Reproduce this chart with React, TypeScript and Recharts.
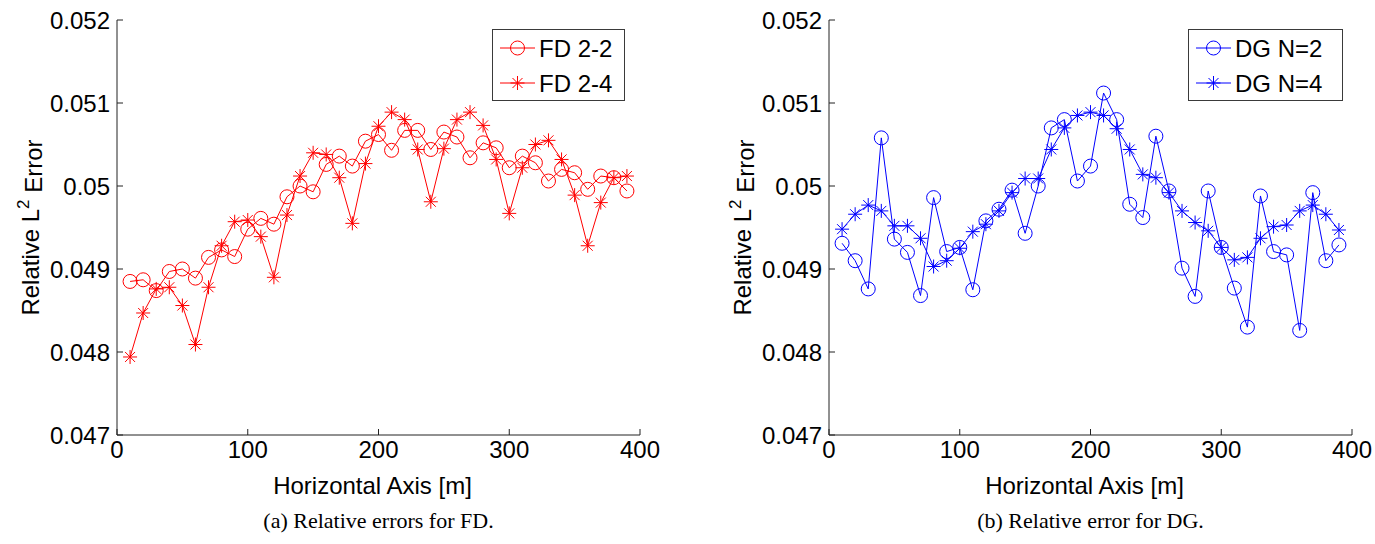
import React from 'react';
import { LineChart, Line, XAxis, YAxis, Legend, Label } from 'recharts';

const xValues = [10, 20, 30, 40, 50, 60, 70, 80, 90, 100, 110, 120, 130, 140, 150, 160, 170, 180, 190, 200,
  210, 220, 230, 240, 250, 260, 270, 280, 290, 300, 310, 320, 330, 340, 350, 360, 370, 380, 390];

const fd22 = [0.04885, 0.04887, 0.04874, 0.04897, 0.04900, 0.04889, 0.04914, 0.04923, 0.04915, 0.04948,
  0.04961, 0.04954, 0.04987, 0.05000, 0.04993, 0.05026, 0.05036, 0.05024, 0.05054, 0.05062,
  0.05043, 0.05067, 0.05067, 0.05044, 0.05065, 0.05059, 0.05034, 0.05052, 0.05046, 0.05022,
  0.05036, 0.05028, 0.05006, 0.05020, 0.05016, 0.04996, 0.05012, 0.05010, 0.04994];

const fd24 = [0.04794, 0.04847, 0.04876, 0.04878, 0.04856, 0.04809, 0.04878, 0.04928, 0.04957, 0.04959,
  0.04939, 0.04890, 0.04965, 0.05012, 0.05040, 0.05038, 0.05010, 0.04955, 0.05027, 0.05072,
  0.05089, 0.05080, 0.05044, 0.04981, 0.05045, 0.05080, 0.05089, 0.05073, 0.05032, 0.04967,
  0.05022, 0.05050, 0.05055, 0.05032, 0.04989, 0.04928, 0.04980, 0.05010, 0.05012];

const dg2 = [0.04931, 0.04910, 0.04876, 0.05058, 0.04936, 0.04920, 0.04868, 0.04986, 0.04921, 0.04926,
  0.04875, 0.04958, 0.04972, 0.04995, 0.04943, 0.05000, 0.05070, 0.05080, 0.05006, 0.05024,
  0.05112, 0.05080, 0.04978, 0.04962, 0.05060, 0.04994, 0.04901, 0.04867, 0.04994, 0.04926,
  0.04877, 0.04830, 0.04988, 0.04921, 0.04917, 0.04826, 0.04992, 0.04910, 0.04929];

const dg4 = [0.04948, 0.04966, 0.04977, 0.04970, 0.04952, 0.04952, 0.04937, 0.04903, 0.04910, 0.04925,
  0.04945, 0.04954, 0.04970, 0.04992, 0.05009, 0.05009, 0.05044, 0.05070, 0.05085, 0.05089,
  0.05085, 0.05069, 0.05044, 0.05014, 0.05010, 0.04992, 0.04970, 0.04956, 0.04946, 0.04926,
  0.04911, 0.04914, 0.04937, 0.04951, 0.04953, 0.04970, 0.04977, 0.04966, 0.04947];

const xTicks = [0, 100, 200, 300, 400];
const yTicks = [0.047, 0.048, 0.049, 0.05, 0.051, 0.052];

const fdData = xValues.map((x, i) => ({ x, a: fd22[i], b: fd24[i] }));
const dgData = xValues.map((x, i) => ({ x, a: dg2[i], b: dg4[i] }));

const SANS = '"Liberation Sans", Arial, Helvetica, sans-serif';
const SERIF = '"Liberation Serif", "Times New Roman", serif';
const FS = 24;

const CircleMarker = ({ cx, cy, color }: any) => (
  <circle cx={cx} cy={cy} r={7} fill="none" stroke={color} strokeWidth={1} />
);

const StarMarker = ({ cx, cy, color }: any) => {
  const a = 7;
  const d = 5;
  return (
    <g stroke={color} strokeWidth={1}>
      <line x1={cx - a} y1={cy} x2={cx + a} y2={cy} />
      <line x1={cx} y1={cy - a} x2={cx} y2={cy + a} />
      <line x1={cx - d} y1={cy - d} x2={cx + d} y2={cy + d} />
      <line x1={cx - d} y1={cy + d} x2={cx + d} y2={cy - d} />
    </g>
  );
};

const fmtY = (v: number) => String(Number(v.toFixed(3)));

function LegendBox({ color, names, width }: any) {
  const rows = [19, 54];
  return (
    <svg width={width} height={72} style={{ display: 'block' }}>
      <rect x={0.5} y={0.5} width={width - 1} height={71} fill="#fff" stroke="#3a3a3a" strokeWidth={1} />
      {rows.map((ry, i) => (
        <g key={i}>
          <line x1={8} y1={ry} x2={43} y2={ry} stroke={color} strokeWidth={1} />
          {i === 0 ? <CircleMarker cx={25.5} cy={ry} color={color} /> : <StarMarker cx={25.5} cy={ry} color={color} />}
          <text x={47} y={ry} dy="0.36em" fontFamily={SANS} fontSize={FS} fill="#000">{names[i]}</text>
        </g>
      ))}
    </svg>
  );
}

function Panel({ left, data, color, names, legendLeft, legendWidth, caption }: any) {
  return (
    <div style={{ position: 'absolute', left, top: 0, width: 700, height: 544 }}>
      <LineChart width={700} height={544} data={data} margin={{ top: 20, right: 60, bottom: 49, left: 0 }}>
        <XAxis
          dataKey="x"
          type="number"
          domain={[0, 400]}
          ticks={xTicks}
          interval={0}
          height={60}
          tickSize={-6}
          tickMargin={12}
          stroke="#222"
          tick={{ fill: '#000', fontSize: FS, fontFamily: SANS }}
        >
          <Label
            content={({ viewBox }: any) => (
              <text x={viewBox.x + viewBox.width / 2 - 6} y={viewBox.y + 59} textAnchor="middle" fontFamily={SANS} fontSize={FS} fill="#000">
                Horizontal Axis [m]
              </text>
            )}
          />
        </XAxis>
        <YAxis
          type="number"
          domain={[0.047, 0.052]}
          ticks={yTicks}
          interval={0}
          width={117}
          tickSize={-6}
          tickMargin={13}
          stroke="#222"
          tickFormatter={fmtY}
          tick={{ fill: '#000', fontSize: FS, fontFamily: SANS }}
        >
          <Label
            content={({ viewBox }: any) => {
              const cx = viewBox.x + 30;
              const cy = viewBox.y + viewBox.height / 2;
              return (
                <text x={cx} y={cy} dy="0.36em" transform={`rotate(-90 ${cx} ${cy})`} textAnchor="middle" fontFamily={SANS} fontSize={FS} fill="#000">
                  Relative L<tspan dy="-0.55em" fontSize={17}>2</tspan><tspan dy="0.55em"> Error</tspan>
                </text>
              );
            }}
          />
        </YAxis>
        <Legend
          layout="horizontal"
          verticalAlign="middle"
          align="center"
          wrapperStyle={{ position: 'absolute', left: legendLeft, top: 29, width: legendWidth }}
          content={() => <LegendBox color={color} names={names} width={legendWidth} />}
        />
        <Line
          type="linear"
          dataKey="a"
          stroke={color}
          strokeWidth={1}
          isAnimationActive={false}
          activeDot={false}
          dot={(p: any) => <CircleMarker key={`c-${p.index}`} cx={p.cx} cy={p.cy} color={color} />}
        />
        <Line
          type="linear"
          dataKey="b"
          stroke={color}
          strokeWidth={1}
          isAnimationActive={false}
          activeDot={false}
          dot={(p: any) => <StarMarker key={`s-${p.index}`} cx={p.cx} cy={p.cy} color={color} />}
        />
      </LineChart>
      <div
        style={{
          position: 'absolute',
          left: 117,
          width: 523,
          top: 505,
          height: 32,
          lineHeight: '32px',
          textAlign: 'center',
          fontFamily: SERIF,
          fontSize: 22,
          color: '#000',
        }}
      >
        {caption}
      </div>
    </div>
  );
}

export default function App() {
  return (
    <div style={{ position: 'absolute', left: 0, top: 0, width: 1375, height: 544, background: '#fff' }}>
      <Panel
        left={0}
        data={fdData}
        color="#ff0000"
        names={['FD 2-2', 'FD 2-4']}
        legendLeft={492}
        legendWidth={133}
        caption="(a) Relative errors for FD."
      />
      <Panel
        left={712}
        data={dgData}
        color="#0000ff"
        names={['DG N=2', 'DG N=4']}
        legendLeft={476}
        legendWidth={155}
        caption="(b) Relative error for DG."
      />
    </div>
  );
}
